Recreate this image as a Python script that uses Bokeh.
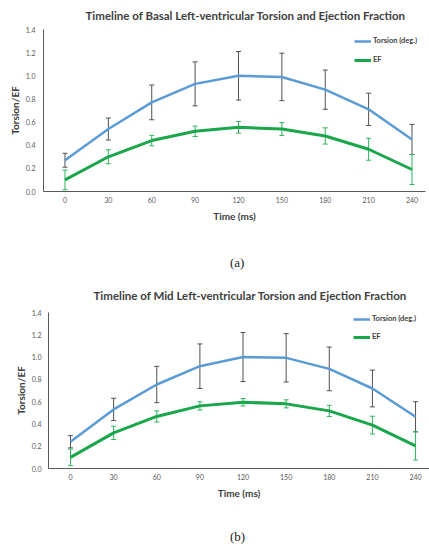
import numpy as np
from bokeh.plotting import figure
from bokeh.models import (ColumnDataSource, Whisker, TeeHead, Legend, LegendItem,
                          FixedTicker, Range1d, Div, NumeralTickFormatter, Spacer)
from bokeh.layouts import column, row
from bokeh.embed import file_html
from bokeh.resources import INLINE

# ---------------- data ----------------
time_ms = [0, 30, 60, 90, 120, 150, 180, 210, 240]

# (a) basal
torsion_a = [0.27, 0.54, 0.77, 0.93, 1.00, 0.99, 0.88, 0.71, 0.45]
torsion_err_a = [0.06, 0.095, 0.15, 0.19, 0.21, 0.205, 0.17, 0.14, 0.13]
ef_a = [0.10, 0.30, 0.44, 0.52, 0.555, 0.54, 0.48, 0.365, 0.19]
ef_err_a = [0.085, 0.06, 0.045, 0.045, 0.05, 0.055, 0.07, 0.095, 0.13]

# (b) mid
torsion_b = [0.24, 0.53, 0.754, 0.918, 1.00, 0.993, 0.894, 0.718, 0.464]
torsion_err_b = [0.055, 0.10, 0.163, 0.20, 0.22, 0.217, 0.196, 0.165, 0.135]
ef_b = [0.10, 0.32, 0.467, 0.562, 0.595, 0.58, 0.517, 0.389, 0.203]
ef_err_b = [0.075, 0.06, 0.05, 0.037, 0.033, 0.036, 0.05, 0.08, 0.127]

y_ticks = [0.0, 0.2, 0.4, 0.6, 0.8, 1.0, 1.2, 1.4]
titles = ["Timeline of Basal Left-ventricular Torsion and Ejection Fraction",
          "Timeline of Mid Left-ventricular Torsion and Ejection Fraction"]
legend_labels = ["Torsion (deg.)", "EF"]
captions = ["(a)", "(b)"]

TORSION_COLOR = "#5b9bd5"
EF_COLOR = "#1aa64a"
EF_ERR_COLOR = "#2fb55e"
TOR_ERR_COLOR = "#505050"
TEXT = "#404040"
FONT = "Lato"


def make_chart(title, tors, tors_err, ef, ef_err, width, xr, border_left, border_right,
               border_top, border_bottom, height, title_offset, title_standoff,
               legend_loc, legend_spacing, label_standoff_y, axis_label_standoff_y):
    p = figure(width=width, height=height, x_range=Range1d(*xr), y_range=Range1d(0, 1.4),
               output_backend="svg", toolbar_location=None,
               min_border_left=border_left, min_border_right=border_right,
               min_border_top=border_top, min_border_bottom=border_bottom)
    p.outline_line_color = None
    p.xgrid.visible = False
    p.ygrid.visible = False

    p.title.text = title
    p.title.align = "left"
    p.title.vertical_align = "top"
    p.title.offset = title_offset
    p.title.standoff = title_standoff
    p.title.text_font = FONT
    p.title.text_font_style = "bold"
    p.title.text_font_size = "11.5px"
    p.title.text_color = TEXT

    t = np.array(tors)
    te = np.array(tors_err)
    e = np.array(ef)
    ee = np.array(ef_err)
    src = ColumnDataSource(dict(x=time_ms, tor=tors, ef=ef,
                                tu=t + te, tl=t - te, eu=e + ee, el=e - ee))

    for up, lo, col in (("tu", "tl", TOR_ERR_COLOR), ("eu", "el", EF_ERR_COLOR)):
        w = Whisker(source=src, base="x", upper=up, lower=lo, dimension="height",
                    line_color=col, line_width=1,
                    upper_head=TeeHead(size=5, line_color=col, line_width=1),
                    lower_head=TeeHead(size=5, line_color=col, line_width=1))
        p.add_layout(w)

    r1 = p.line("x", "tor", source=src, line_color=TORSION_COLOR, line_width=2.5)
    r2 = p.line("x", "ef", source=src, line_color=EF_COLOR, line_width=3)

    leg = Legend(items=[LegendItem(label=legend_labels[0], renderers=[r1]),
                        LegendItem(label=legend_labels[1], renderers=[r2])],
                 location=legend_loc, padding=0, margin=0, spacing=legend_spacing,
                 glyph_width=17, glyph_height=8, label_height=8, label_standoff=2,
                 border_line_color=None, background_fill_alpha=0,
                 label_text_font=FONT, label_text_font_style="bold",
                 label_text_font_size="7.5px", label_text_color=TEXT)
    p.add_layout(leg)

    for ax in (p.xaxis[0], p.yaxis[0]):
        ax.axis_line_color = "#595959"
        ax.axis_line_width = 1
        ax.major_tick_line_color = None
        ax.minor_tick_line_color = None
        ax.major_tick_out = 0
        ax.major_tick_in = 0
        ax.minor_tick_out = 0
        ax.major_label_text_font = FONT
        ax.major_label_text_font_size = "7px"
        ax.major_label_text_color = "#595959"
        ax.axis_label_text_font = FONT
        ax.axis_label_text_font_style = "bold"
        ax.axis_label_text_font_size = "10px"
        ax.axis_label_text_color = TEXT

    p.xaxis.ticker = FixedTicker(ticks=time_ms)
    p.xaxis.axis_label = "Time (ms)"
    p.xaxis.major_label_standoff = 5
    p.xaxis.axis_label_standoff = 4

    p.yaxis.ticker = FixedTicker(ticks=y_ticks)
    p.yaxis.axis_label = "Torsion/EF"
    p.yaxis.major_label_standoff = label_standoff_y
    p.yaxis.axis_label_standoff = axis_label_standoff_y
    p.yaxis.formatter = NumeralTickFormatter(format="0.0")
    return p


pa = make_chart(titles[0], torsion_a, torsion_err_a, ef_a, ef_err_a, 429,
                (-14.87, 249.34), 43, 4, 29, 41, 232, 42, 12, (311, 127), 10, 8, 2)
pb = make_chart(titles[1], torsion_b, torsion_err_b, ef_b, ef_err_b, 424,
                (-15.3, 249.7), 43, 0, 34, 40, 230, 45, 18, (305, 127), 9, 7, 2)


def caption(text, height, pad_top):
    return Div(text=('<div style="padding-top:%dpx;padding-left:230px;'
                     'font-family:\'Liberation Serif\';font-size:13px;line-height:15px;'
                     'color:#222;">%s</div>' % (pad_top, text)),
               width=429, height=height, margin=0)


row_b = row(Spacer(width=5, height=230), pb, spacing=0)
layout = column(pa, caption(captions[0], 46, 23), row_b, caption(captions[1], 37, 21),
                spacing=0)

open("out.html", "w").write(file_html(layout, INLINE))
